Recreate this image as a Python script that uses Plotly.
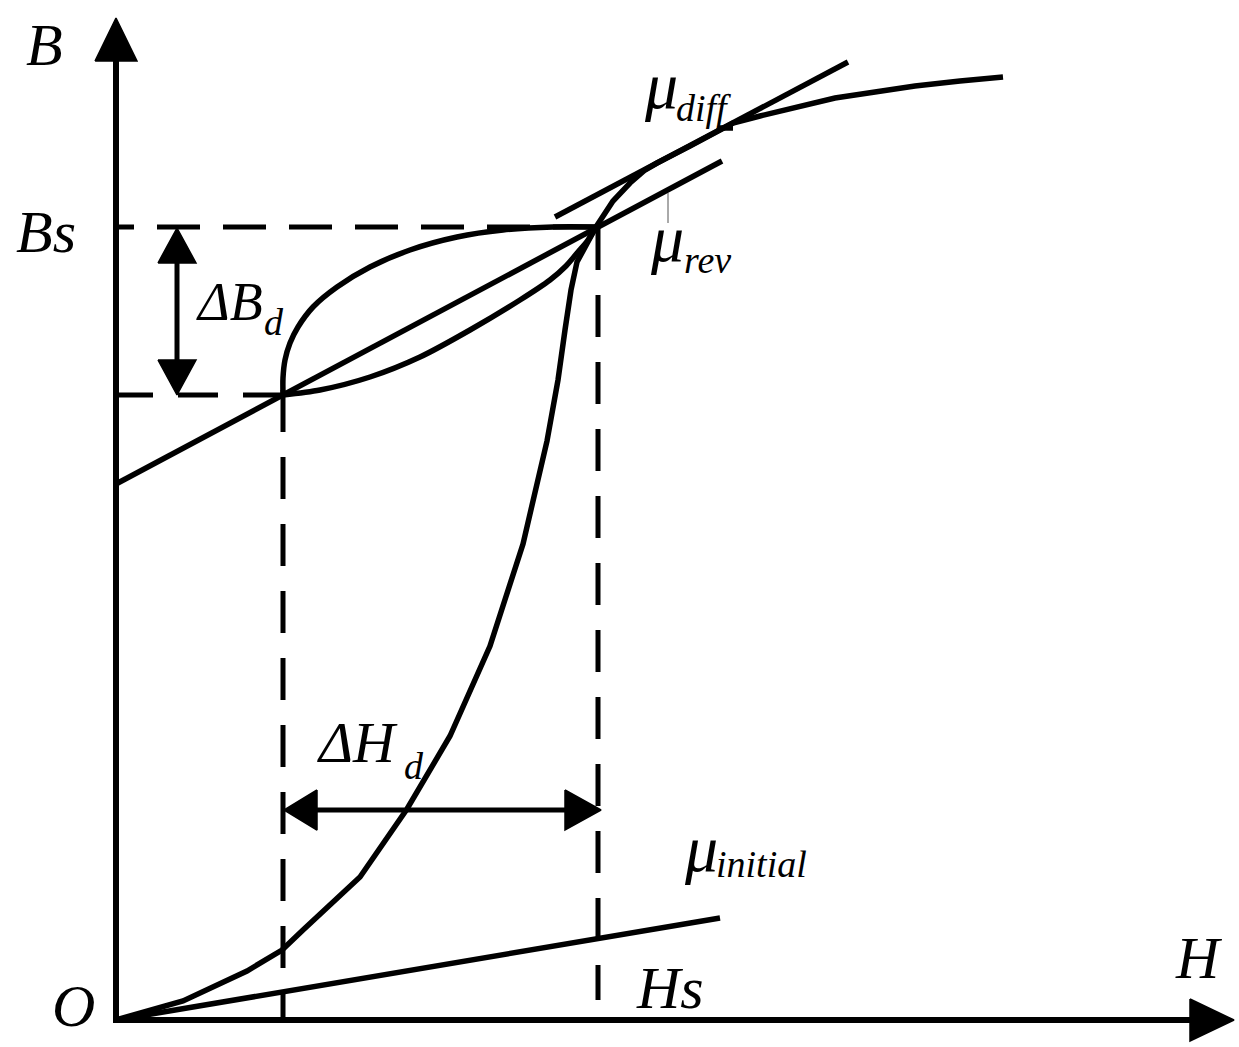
import plotly.graph_objects as go

# ---- canvas (pixel-like schematic coordinates, y grows downward) ----
W, H = 1239, 1047

# ---- axes ----
axis_origin = (116, 1020)
axis_B_top = 60          # shaft end (arrow base)
axis_H_right = 1190
arrowB_tri_x = [95, 116, 137, 95]
arrowB_tri_y = [61, 18, 61, 61]
arrowH_tri_x = [1190, 1234, 1190, 1190]
arrowH_tri_y = [999, 1020, 1041, 999]

# ---- initial magnetisation curve ----
init_H = [116, 183, 247, 282, 303, 360, 407, 450, 490, 523, 547, 558, 565, 571, 577,
          586, 596, 613, 630, 645, 657, 690, 717, 733, 760, 800, 835, 875, 915, 960, 1003]
init_B = [1020, 1001, 971, 950, 930, 877, 809, 736, 646, 544, 441, 380, 330, 290, 262,
          244, 227, 201, 183, 170, 163, 146, 131, 123, 116, 106, 98, 92, 86, 81, 77]

# ---- minor loop ----
loop_up_H = [283, 283, 285, 290, 298, 313, 337, 370, 410, 457, 503, 553, 596]
loop_up_B = [395, 378, 360, 343, 327, 307, 287, 267, 250, 237, 230, 227, 227]
loop_lo_H = [283, 320, 370, 420, 470, 520, 550, 566, 578, 588, 596]
loop_lo_B = [395, 390, 377, 357, 330, 300, 280, 266, 252, 240, 227]

# ---- permeability lines ----
mu_rev_H = [116, 722]
mu_rev_B = [484, 161]
mu_diff_H = [555, 848]
mu_diff_B = [217, 62]
mu_init_H = [116, 720]
mu_init_B = [1020, 918]
diff_tick_H = [718, 733]
diff_tick_B = [128, 128]
rev_leader_H = [668, 668]
rev_leader_B = [193, 223]

# ---- dashed guides ----
Bs_level, Bd_level = 227, 395
Hd_pos, Hs_pos = 283, 598
dash_Bs_H = [596, 116]
dash_Bs_B = [Bs_level, Bs_level]
dash_Bd_H = [283, 116]
dash_Bd_B = [Bd_level, Bd_level]
dash_Hd_H = [Hd_pos, Hd_pos]
dash_Hd_B = [390, 1020]
dash_Hs_H = [Hs_pos, Hs_pos]
dash_Hs_B = [228, 1000]

# ---- double arrows ----
dB_x = 177
dB_shaft_B = [255, 365]
dB_top_x = [158, 177, 196, 158]
dB_top_y = [263, 228, 263, 263]
dB_bot_x = [158, 177, 196, 158]
dB_bot_y = [360, 395, 360, 360]
dH_y = 810
dH_shaft_H = [310, 572]
dH_left_x = [317, 284, 317, 317]
dH_left_y = [790, 810, 830, 790]
dH_right_x = [565, 601, 565, 565]
dH_right_y = [790, 810, 830, 790]

BLACK = "#000000"
LW = 5.5

fig = go.Figure()


def line(x, y, width=LW, dash=None, shape="linear", color=BLACK, smoothing=1.0):
    kw = dict(color=color, width=width, shape=shape)
    if dash:
        kw["dash"] = dash
    if shape == "spline":
        kw["smoothing"] = smoothing
    fig.add_trace(go.Scatter(x=x, y=y, mode="lines", line=kw,
                             hoverinfo="skip", showlegend=False))


def tri(x, y):
    fig.add_trace(go.Scatter(x=x, y=y, mode="lines", fill="toself",
                             fillcolor=BLACK, line=dict(color=BLACK, width=1.5),
                             hoverinfo="skip", showlegend=False))


# axes
line([axis_origin[0], axis_origin[0]], [axis_origin[1] + 2, axis_B_top], width=6)
line([axis_origin[0] - 3, axis_H_right], [axis_origin[1], axis_origin[1]], width=6)
tri(arrowB_tri_x, arrowB_tri_y)
tri(arrowH_tri_x, arrowH_tri_y)

# dashed guides
line(dash_Bs_H, dash_Bs_B, dash="43px,23px", width=5)
line(dash_Bd_H, dash_Bd_B, dash="40px,25px", width=5)
line(dash_Hd_H, dash_Hd_B, dash="42px,25px", width=5)
line(dash_Hs_H, dash_Hs_B, dash="42px,25px", width=5)

# curves
line(init_H, init_B)
line(loop_up_H, loop_up_B, shape="spline", smoothing=0.8)
line(loop_lo_H, loop_lo_B, shape="spline", smoothing=0.8)

# permeability lines
line(mu_rev_H, mu_rev_B)
line(mu_diff_H, mu_diff_B)
line(mu_init_H, mu_init_B)
line(diff_tick_H, diff_tick_B)
line(rev_leader_H, rev_leader_B, width=1, color="#555555")

# double arrows
line([dB_x, dB_x], dB_shaft_B, width=5)
tri(dB_top_x, dB_top_y)
tri(dB_bot_x, dB_bot_y)
line(dH_shaft_H, [dH_y, dH_y], width=5)
tri(dH_left_x, dH_left_y)
tri(dH_right_x, dH_right_y)

# ---- text labels ----
FONT = "'Liberation Serif', 'Times New Roman', serif"
labels = [
    # text, x, y, size
    ("<i>B</i>", 44, 45, 60),
    ("<i>Bs</i>", 46, 232, 60),
    ("<i>O</i>", 73, 1006, 60),
    ("<i>H</i>", 1199, 958, 60),
    ("<i>Hs</i>", 670, 988, 60),
    ("<i>ΔB</i>", 229, 302, 54),
    ("<i>d</i>", 274, 322, 38),
    ("<i>ΔH</i>", 357, 742, 58),
    ("<i>d</i>", 414, 766, 38),
    ("<i>μ</i>", 661, 85, 66),
    ("<i>diff</i>", 703, 108, 38),
    ("<i>μ</i>", 667, 238, 66),
    ("<i>rev</i>", 707, 260, 38),
    ("<i>μ</i>", 701, 848, 66),
    ("<i>initial</i>", 761, 864, 38),
]
for t, x, y, s in labels:
    fig.add_annotation(x=x, y=y, xref="x", yref="y", text=t, showarrow=False,
                       xanchor="center", yanchor="middle",
                       font=dict(family=FONT, size=s, color=BLACK))

fig.update_layout(
    width=W, height=H, autosize=False,
    margin=dict(l=0, r=0, t=0, b=0, pad=0),
    paper_bgcolor="white", plot_bgcolor="white",
    xaxis=dict(range=[0, W], visible=False, fixedrange=True),
    yaxis=dict(range=[H, 0], visible=False, fixedrange=True),
    showlegend=False,
)

fig.write_html("out.html", config={"displayModeBar": False},
               post_script="document.body.style.margin='0';document.body.style.overflow='hidden';")
